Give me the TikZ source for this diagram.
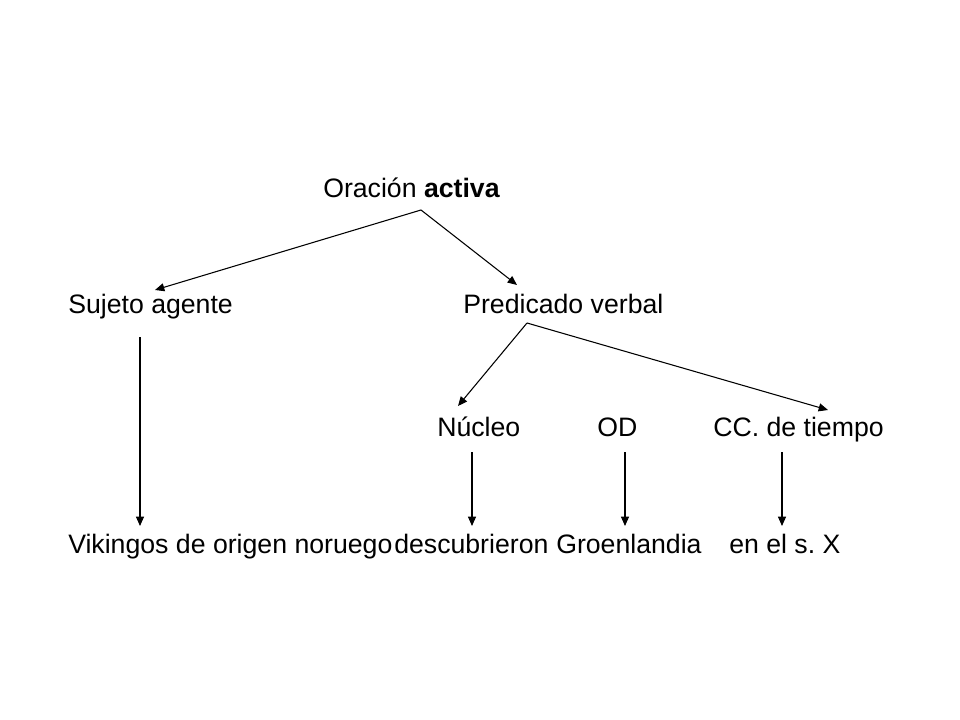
\documentclass[tikz,border=0pt]{standalone}
\usepackage{fontspec}
\setmainfont{Liberation Sans}
\usetikzlibrary{arrows.meta}
\begin{document}
\begin{tikzpicture}[x=0.75pt,y=-0.75pt,
  lbl/.style={anchor=base west,inner sep=0pt,font=\fontsize{20}{24}\selectfont},
  arr/.style={-{Triangle[length=7pt,width=6pt]},line width=0.8pt}]
\useasboundingbox (0,0) rectangle (960,720);
\node[lbl] (or) at (323,198) {Oración \textbf{activa}};
\node[lbl] (sa) at (68,313) {Sujeto agente};
\node[lbl] (pv) at (463,313) {Predicado verbal};
\node[lbl] (nu) at (437,436) {Núcleo};
\node[lbl] (od) at (597,436) {OD};
\node[lbl] (cc) at (713,436) {CC.\ de tiempo};
\node[lbl] (vk) at (68,553) {Vikingos de origen noruego};
\node[lbl] (de) at (394,553) {descubrieron};
\node[lbl] (gr) at (556,553) {Groenlandia};
\node[lbl] (en) at (729,553) {en el s.\ X};
\coordinate (o1) at (421,210);
\coordinate (sat) at (155,290);
\coordinate (pvt) at (517,285);
\coordinate (p1) at (527,323);
\coordinate (nut) at (458,406);
\coordinate (cct) at (828,410);
\coordinate (s1) at (140,337);
\coordinate (vkt) at (140,526);
\coordinate (n1) at (472,452);
\coordinate (det) at (472,526);
\coordinate (d1) at (625,452);
\coordinate (grt) at (625,526);
\coordinate (c1) at (782,452);
\coordinate (ent) at (782,526);
\draw[arr] (o1) -- (sat);
\draw[arr] (o1) -- (pvt);
\draw[arr] (p1) -- (nut);
\draw[arr] (p1) -- (cct);
\draw[arr] (s1) -- (vkt);
\draw[arr] (n1) -- (det);
\draw[arr] (d1) -- (grt);
\draw[arr] (c1) -- (ent);
\end{tikzpicture}
\end{document}
